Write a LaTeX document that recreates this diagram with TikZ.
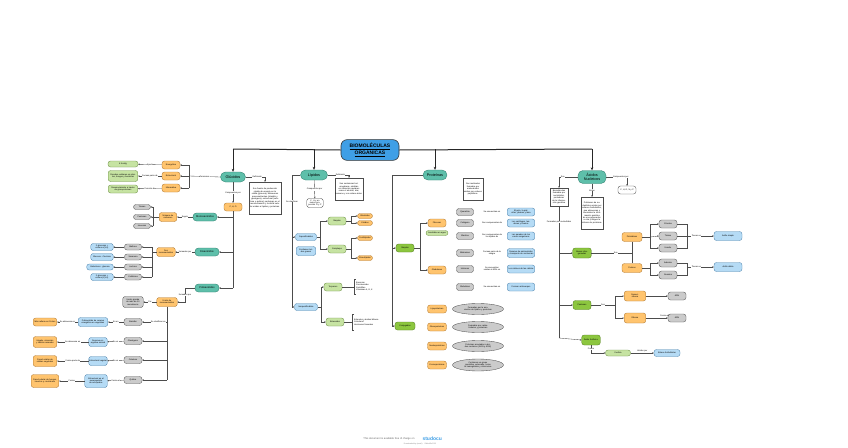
\documentclass[tikz,border=0pt]{standalone}
\usepackage{fontspec}
\setmainfont{Liberation Sans}
\usetikzlibrary{arrows.meta,shapes.geometric}
\newcommand\tfs{\fontsize{2.1}{2.45}\selectfont}
\newcommand\nfs{\fontsize{2.6}{3}\selectfont}
\newcommand\mfs{\fontsize{3.8}{4.2}\selectfont}
\definecolor{cteal}{HTML}{5EBFAA}
\definecolor{cteald}{HTML}{2F7F6E}
\definecolor{cora}{HTML}{FFC46E}
\definecolor{corad}{HTML}{B07A35}
\definecolor{cgrn}{HTML}{C6E3A2}
\definecolor{cgrnd}{HTML}{6F9147}
\definecolor{cdgrn}{HTML}{8CC63F}
\definecolor{cdgrnd}{HTML}{557F23}
\definecolor{cgry}{HTML}{CBCBCB}
\definecolor{cgryd}{HTML}{555555}
\definecolor{cblu}{HTML}{B5DBF5}
\definecolor{cblud}{HTML}{4F84AE}
\definecolor{ctit}{HTML}{3F9FE6}
\begin{document}
\begin{tikzpicture}[x=1pt,y=-1pt,
 bx/.style={draw, line width=0.35pt, rounded corners=2.5pt, align=center, inner sep=0.3pt, font=\tfs},
 nteal/.style={bx, fill=cteal, draw=cteald, font=\mfs, rounded corners=5pt},
 nsteal/.style={bx, fill=cteal, draw=cteald, font=\nfs, rounded corners=3.5pt, minimum width=24pt, minimum height=8pt},
 nora/.style={bx, fill=cora, draw=corad},
 ngrn/.style={bx, fill=cgrn, draw=cgrnd},
 ndgrn/.style={bx, fill=cdgrn, draw=cdgrnd},
 ngry/.style={bx, fill=cgry, draw=cgryd},
 nblu/.style={bx, fill=cblu, draw=cblud},
 nwht/.style={bx, fill=white, draw=black!70},
 nsq/.style={draw=black!70, line width=0.35pt, fill=white, align=center, inner sep=0.8pt, font=\tfs},
 nell/.style={ellipse, draw=cgryd, fill=cgry, line width=0.35pt, align=center, inner sep=0pt, font=\tfs},
 lbl/.style={fill=white, inner sep=0.3pt, font=\tfs, align=center},
 con/.style={draw=black!70, line width=0.35pt},
 arr/.style={con, -{Stealth[length=1.6pt,width=1.5pt]}},
 barc/.style={draw=black!85, line width=1pt},
 bara/.style={barc, -{Stealth[length=3pt,width=2.6pt]}},
]
\useasboundingbox[fill=white] (0,0) rectangle (848,447);

% ---------- title and main bar
\node[draw=black!80, line width=0.6pt, fill=ctit, rounded corners=6pt, minimum width=58pt, minimum height=20pt, align=center, font=\fontsize{5}{5.6}\selectfont\bfseries] (bio) at (370,150) {\underline{BIOMOLÉCULAS}\\\underline{ORGÁNICAS}};
\coordinate (b1) at (233,149);
\coordinate (b2) at (314,149);
\coordinate (b3) at (435,149);
\coordinate (b4) at (592,149);
\node[nteal, minimum width=25pt, minimum height=10pt] (glu) at (233,177) {Glúcidos};
\node[nteal, minimum width=27pt, minimum height=10pt] (lip) at (314,175) {Lípidos};
\node[nteal, minimum width=24pt, minimum height=10pt] (pro) at (435,175) {Proteínas};
\node[nteal, minimum width=28pt, minimum height=13pt] (an) at (592,177) {Ácidos\\Nucleicos};
\draw[barc] (bio.west) -- (b1);
\draw[barc] (bio.east) -- (b4);
\draw[bara] (b1) -- (glu.north);
\draw[bara] (b2) -- (lip.north);
\draw[bara] (b3) -- (pro.north);
\draw[bara] (b4) -- (an.north);

% ---------- GLUCIDOS
\node[nsq, text width=30pt, minimum height=32pt] (defg) at (265,198) {Son fuente de producción rápida de energía en la célula (glucosa), almacenan macronutrientes (almidón y glucógeno), estructural (celulosa y quitina), participan en el reconocimiento y la señal celular unidos a lípidos y proteínas.};
\draw[arr] (glu.east) -| node[lbl,pos=0.3]{Definición} (defg.north);
\node[nora, minimum width=18pt, minimum height=8pt] (chog) at (233,207) {C, H, O};
\draw[arr] (glu) -- node[lbl]{Compuestos por} (chog);

\coordinate (fb) at (189,176);
\coordinate (fb1) at (189,165);
\coordinate (fb3) at (189,188);
\node[nora, minimum width=18pt, minimum height=8pt] (ene) at (171,165) {Energética};
\node[nora, minimum width=18pt, minimum height=8pt] (est) at (171,176) {Estructural};
\node[nora, minimum width=18pt, minimum height=8pt] (inf) at (171,188) {Informativa};
\draw[con] (glu.west) -- node[lbl]{Funciones} (fb);
\draw[con] (fb1) -- (fb3);
\draw[arr] (fb1) -- (ene.east);
\draw[arr] (fb) -- (est.east);
\draw[arr] (fb3) -- (inf.east);
\node[ngrn, minimum width=30pt, minimum height=6pt] (g1) at (123,164) {4 Kcal/g};
\node[ngrn, text width=29pt, minimum height=11pt] (g2) at (123,176) {Paredes celulares en plantas, hongos y bacterias};
\node[ngrn, text width=29pt, minimum height=8pt] (g3) at (123,189) {Reconocimiento a través de glucoproteínas};
\draw[arr] (ene) -- node[lbl]{Aporta} (g1);
\draw[arr] (est) -- node[lbl]{Forman parte de} (g2);
\draw[arr] (inf) -- node[lbl]{Función de} (g3);

% spine of glucidos
\coordinate (gs1) at (233,217);
\coordinate (gs2) at (233,252);
\coordinate (gs3) at (233,288);
\draw[con] (chog.south) -- (gs3);
\node[nsteal] (mono) at (205,217) {Monosacáridos};
\node[nsteal] (di) at (207,252) {Disacáridos};
\node[nsteal] (poly) at (207,288) {Polisacáridos};
\draw[arr] (gs1) -- (mono.east);
\draw[arr] (gs2) -- (di.east);
\draw[arr] (gs3) -- (poly.east);

% monosacaridos
\node[nora, text width=17pt, minimum height=9pt] (nc) at (168,217) {Número de carbonos};
\draw[arr] (mono) -- node[lbl]{Según} (nc);
\coordinate (mb) at (153,217);
\coordinate (mb1) at (153,207);
\coordinate (mb3) at (153,226);
\draw[con] (nc.west) -- (mb);
\draw[con] (mb1) -- (mb3);
\node[ngry, minimum width=17pt, minimum height=5pt] (m1) at (142,207) {Triosas};
\node[ngry, minimum width=17pt, minimum height=5pt] (m2) at (142,217) {Pentosas};
\node[ngry, minimum width=17pt, minimum height=5pt] (m3) at (142,226) {Hexosas};
\draw[arr] (mb1) -- (m1.east);
\draw[arr] (mb) -- (m2.east);
\draw[arr] (mb3) -- (m3.east);

% disacaridos
\node[nora, text width=18pt, minimum height=9pt] (dm) at (166,252) {Dos monosacáridos};
\draw[arr] (di) -- node[lbl]{formados por} (dm);
\coordinate (db) at (152,252);
\coordinate (db1) at (152,247);
\coordinate (db4) at (152,277);
\coordinate (db2) at (152,257);
\coordinate (db3) at (152,267);
\draw[con] (dm.west) -- (db);
\draw[con] (db1) -- (db4);
\node[ngry, minimum width=17pt, minimum height=6pt] (d1) at (133,247) {Maltosa};
\node[ngry, minimum width=17pt, minimum height=6pt] (d2) at (133,257) {Sacarosa};
\node[ngry, minimum width=17pt, minimum height=6pt] (d3) at (133,267) {Lactosa};
\node[ngry, minimum width=17pt, minimum height=6pt] (d4) at (133,277) {Celobiosa};
\draw[arr] (db1) -- (d1.east);
\draw[arr] (db2) -- (d2.east);
\draw[arr] (db3) -- (d3.east);
\draw[arr] (db4) -- (d4.east);
\node[nblu, text width=22pt, minimum height=7pt] (e1) at (102,247) {2 glucosas + enlace α(1-4)};
\node[nblu, text width=22pt, minimum height=7pt] (e2) at (102,257) {Glucosa + fructosa};
\node[nblu, text width=26pt, minimum height=6pt] (e3) at (100,267) {Galactosa + glucosa};
\node[nblu, text width=22pt, minimum height=7pt] (e4) at (102,277) {2 glucosas + enlace β(1-4)};
\draw[arr] (d1) -- (e1);
\draw[arr] (d2) -- (e2);
\draw[arr] (d3) -- (e3);
\draw[arr] (d4) -- (e4);

% polisacaridos
\coordinate (pb) at (185,288);
\node[nora, text width=20pt, minimum height=9pt] (ep) at (167,302) {Unión de monosacáridos};
\draw[arr] (poly.west) -- (pb) |- node[lbl,pos=0.25]{formados por} (ep.east);
\node[ngry, text width=20pt, minimum height=11pt] (pg) at (133,302) {Unión grande de más de 10 monómeros};
\draw[arr] (ep) -- node[lbl]{Por} (pg);
\coordinate (ps1) at (167,322);
\coordinate (ps2) at (167,341);
\coordinate (ps3) at (167,360);
\coordinate (ps4) at (167,380);
\draw[con] (ep.south) -- (ps4);
\node[ngry, minimum width=18pt, minimum height=7pt] (p1) at (133,322) {Almidón};
\node[ngry, minimum width=18pt, minimum height=7pt] (p2) at (133,341) {Glucógeno};
\node[ngry, minimum width=18pt, minimum height=7pt] (p3) at (133,360) {Celulosa};
\node[ngry, minimum width=18pt, minimum height=7pt] (p4) at (133,380) {Quitina};
\draw[arr] (ps1) -- node[lbl,pos=0.35]{Se clasifican en} (p1.east);
\draw[arr] (ps2) -- (p2.east);
\draw[arr] (ps3) -- (p3.east);
\draw[arr] (ps4) -- (p4.east);
\node[nblu, text width=29pt, minimum height=9pt] (q1) at (93,322) {Polisacárido de reserva energética en vegetales};
\node[nblu, text width=18pt, minimum height=9pt] (q2) at (98,342) {Reserva energética animal};
\node[nblu, text width=18pt, minimum height=9pt] (q3) at (98,361) {Estructural vegetal};
\node[nblu, text width=22pt, minimum height=13pt] (q4) at (96,381) {Estructural en el exoesqueleto de artrópodos};
\draw[arr] (p1) -- node[lbl]{Es un} (q1);
\draw[arr] (p2) -- node[lbl]{Es un} (q2);
\draw[arr] (p3) -- node[lbl]{Es un} (q3);
\draw[arr] (p4) -- node[lbl]{Forma el} (q4);
\node[nora, text width=23pt, minimum height=8pt] (r1) at (45,322) {Más rellena en Frutos};
\node[nora, text width=23pt, minimum height=11pt] (r2) at (45,342) {Hígado, músculos y células animales};
\node[nora, text width=23pt, minimum height=11pt] (r3) at (45,361) {Pared celular de células vegetales};
\node[nora, text width=27pt, minimum height=13pt] (r4) at (45,381) {Pared celular de hongos, insectos y crustáceos};
\draw[arr] (q1) -- node[lbl]{Se almacena en} (r1);
\draw[arr] (q2) -- node[lbl]{Se almacena en} (r2);
\draw[arr] (q3) -- node[lbl]{Forma parte de} (r3);
\draw[arr] (q4) -- node[lbl]{Forma} (r4);

% ---------- LIPIDOS
\node[nsq, text width=27pt, minimum height=22pt] (defl) at (349,189) {Son sustancias heterogéneas, solubles en solventes apolares como el alcohol, éter, benceno y con enlace éster.};
\draw[arr] (lip.east) -| node[lbl,pos=0.3]{Definición} (defl.north);
\node[nwht, text width=16pt, minimum height=9pt] (chol) at (315,203) {C, H y en menor proporción O y P};
\draw[arr] (lip) -- node[lbl]{Compuestos por} (chol);
\coordinate (ls) at (292,307);
\coordinate (ls1) at (292,237);
\draw[con] (lip.west) -| node[lbl,pos=0.6]{Se clasifican} (ls);
\node[nblu, minimum width=21pt, minimum height=7pt] (sap) at (306,237) {Saponificables};
\node[nblu, text width=19pt, minimum height=9pt] (sap2) at (306,251) {Contienen ácidos grasos};
\node[nblu, minimum width=23pt, minimum height=7pt] (insap) at (306,307) {Insaponificables};
\draw[arr] (ls1) -- (sap.west);
\draw[arr] (ls) -- (insap.west);
\node[ngrn, minimum width=18pt, minimum height=8pt] (sim) at (337,221) {Simples};
\node[ngrn, minimum width=18pt, minimum height=8pt] (com) at (337,249) {Complejos};
\coordinate (lc) at (320,237);
\coordinate (lc1) at (320,221);
\coordinate (lc2) at (320,249);
\draw[con] (sap.east) -- (lc);
\draw[con] (lc1) -- (lc2);
\draw[arr] (lc1) -- (sim.west);
\draw[arr] (lc2) -- (com.west);
\node[nora, minimum width=15pt, minimum height=5pt] (o1) at (365,216) {Glicéridos};
\node[nora, minimum width=15pt, minimum height=5pt] (o2) at (365,223) {Céridos};
\node[nora, minimum width=15pt, minimum height=5pt] (o3) at (365,238) {Fosfolípidos};
\node[nora, minimum width=15pt, minimum height=5pt] (o4) at (365,258) {Glucolípidos};
\coordinate (sb) at (351,221);
\coordinate (sb1) at (351,216);
\coordinate (sb2) at (351,223);
\draw[con] (sim.east) -- (sb);
\draw[con] (sb1) -- (sb2);
\draw[arr] (sb1) -- (o1.west);
\draw[arr] (sb2) -- (o2.west);
\coordinate (cb) at (351,249);
\coordinate (cb1) at (351,238);
\coordinate (cb2) at (351,258);
\draw[con] (com.east) -- (cb);
\draw[con] (cb1) -- (cb2);
\draw[arr] (cb1) -- (o3.west);
\draw[arr] (cb2) -- (o4.west);
\node[ngrn, minimum width=18pt, minimum height=8pt] (ter) at (333,287) {Terpenos};
\node[ngrn, minimum width=18pt, minimum height=8pt] (ste) at (335,322) {Esteroides};
\coordinate (is) at (321,307);
\coordinate (is1) at (321,287);
\coordinate (is2) at (321,322);
\draw[con] (insap.east) -- (is);
\draw[con] (is1) -- (is2);
\draw[arr] (is1) -- (ter.west);
\draw[arr] (is2) -- (ste.west);
\coordinate (tb) at (354,287);
\draw[con] (ter.east) -- (tb);
\draw[con] (355.5,279) -- (354,279) -- (354,294) -- (355.5,294);
\node[anchor=west, font=\tfs, align=left, inner sep=0pt] (tt) at (356,286.5) {Esencias\\Carotenoides\\Xantofilas\\Vitaminas A, E, K};
\coordinate (eb) at (352,322);
\draw[con] (ste.east) -- (eb);
\draw[con] (353.5,314) -- (352,314) -- (352,330) -- (353.5,330);
\node[anchor=west, font=\tfs, align=left, inner sep=0pt] (et) at (354,322) {Esteroles y ácidos biliares\\Colesterol\\Hormonas Sexuales};

% ---------- PROTEINAS
\node[nsq, text width=18pt, minimum height=22pt] (defp) at (473,189) {Son moléculas formadas por aminoácidos unidos por enlaces peptídicos.};
\coordinate (prs) at (392,326);
\coordinate (prs1) at (392,248);
\draw[con] (pro.west) -| (prs);
\node[ndgrn, minimum width=18pt, minimum height=8pt] (psim) at (405,248) {Simples};
\node[ndgrn, minimum width=20pt, minimum height=8pt] (pcon) at (405,326) {Conjugadas};
\draw[arr] (prs1) -- (psim.west);
\draw[arr] (prs) -- (pcon.west);
\node[nora, minimum width=18pt, minimum height=8pt] (fib) at (437,223) {Fibrosas};
\node[ngrn, minimum width=22pt, minimum height=5pt] (insa) at (437,233) {Insolubles en agua};
\node[nora, minimum width=18pt, minimum height=8pt] (glob) at (437,270) {Globulares};
\coordinate (pc) at (420,248);
\coordinate (pc1) at (420,223);
\coordinate (pc2) at (420,270);
\draw[con] (psim.east) -- (pc);
\draw[con] (pc1) -- (pc2);
\draw[arr] (pc1) -- (fib.west);
\draw[arr] (pc2) -- (glob.west);

\node[ngry, minimum width=17pt, minimum height=7pt] (k1g) at (465,212) {Queratina};
\node[ngry, minimum width=17pt, minimum height=7pt] (k2g) at (465,223) {Colágeno};
\node[ngry, minimum width=17pt, minimum height=7pt] (k3g) at (465,236) {Elastina};
\node[ngry, minimum width=17pt, minimum height=7pt] (k4g) at (465,253) {Albúminas};
\node[ngry, minimum width=17pt, minimum height=7pt] (k5g) at (465,269) {Histonas};
\node[ngry, minimum width=17pt, minimum height=7pt] (k6g) at (465,287) {Globulinas};
\node[lbl] (k1l) at (492,212) {Se encuentran en};
\node[lbl] (k2l) at (492,223) {Son componentes de};
\node[lbl] (k3l) at (492,236) {Son componentes de\\los tejidos de};
\node[lbl] (k4l) at (492,253) {Forman parte de la\\sangre};
\node[lbl] (k5l) at (492,269) {Se encuentran\\unidas al ADN en};
\node[lbl] (k6l) at (492,287) {Se encuentran en};
\node[nblu, text width=27pt, minimum height=8pt] (k1b) at (521,212) {El pelo, la piel, uñas, plumas y lana};
\node[nblu, text width=27pt, minimum height=8pt] (k2b) at (521,223) {Los cartílagos, tendones y huesos};
\node[nblu, text width=27pt, minimum height=8pt] (k3b) at (521,236) {Las paredes de los vasos sanguíneos};
\node[nblu, text width=27pt, minimum height=9pt] (k4b) at (521,253) {Reserva de aminoácidos y transporte de sustancias};
\node[nblu, text width=27pt, minimum height=8pt] (k5b) at (521,269) {Los núcleos de las células};
\node[nblu, text width=27pt, minimum height=8pt] (k6b) at (521,287) {Forman anticuerpos};

\node[nora, minimum width=19pt, minimum height=8pt] (c1o) at (437,309) {Lipoproteínas};
\node[nora, minimum width=19pt, minimum height=8pt] (c2o) at (437,327) {Glucoproteínas};
\node[nora, minimum width=19pt, minimum height=8pt] (c3o) at (437,346) {Nucleoproteínas};
\node[nora, minimum width=19pt, minimum height=8pt] (c4o) at (437,365) {Cromoproteínas};
\node[nell, minimum width=46pt, minimum height=11pt, text width=36pt] (c1e) at (478,309) {Formadas por la asociación de lípidos y proteínas};
\node[nell, minimum width=46pt, minimum height=11pt, text width=36pt] (c2e) at (478,327) {Formadas por carbohidratos y proteínas};
\node[nell, minimum width=46pt, minimum height=11pt, text width=36pt] (c3e) at (478,346) {Proteínas asociadas a ácidos nucleicos (ADN y ARN)};
\node[nell, minimum width=46pt, minimum height=12pt, text width=36pt] (c4e) at (478,365) {Contienen un grupo prostético coloreado, como la hemoglobina y citocromos};

% ---------- ACIDOS NUCLEICOS
\node[nsq, text width=17pt, minimum height=18pt] (defa1) at (559,197) {Biomoléculas formadas por nucleótidos, portadoras de la información genética};
\draw[arr] (an.west) -| node[lbl,pos=0.4]{Son} (defa1.north);
\node[nsq, text width=21pt, minimum height=32pt] (defa2) at (592,213) {Polímeros de nucleótidos unidos por enlaces fosfodiéster, que almacenan y transmiten la información genética de una generación a otra y dirigen la síntesis de proteínas.};
\draw[arr] (an) -- node[lbl]{Están} (defa2);
\node[nwht, minimum width=18pt, minimum height=8pt] (cano) at (627,190) {C, H, O, N y P};
\draw[arr] (an.east) -| node[lbl,pos=0.35]{Compuestos por} (cano.north);
\coordinate (as) at (559,338);
\coordinate (as1) at (559,253);
\coordinate (as2) at (559,305);
\draw[con] (defa1.south) -- node[lbl,pos=0.12]{Formados por nucleótidos} (as);
\node[ndgrn, text width=18pt, minimum height=10pt] (bnit) at (582,253) {Bases nitrogenadas};
\node[ndgrn, minimum width=18pt, minimum height=9pt] (pent) at (582,305) {Pentosas};
\node[ndgrn, text width=18pt, minimum height=10pt] (afos) at (591,340) {Ácido fosfórico};
\draw[arr] (as1) -- (bnit.west);
\draw[arr] (as2) -- (pent.west);
\draw[arr] (as) -- (afos.west);

\coordinate (ab) at (632,253);
\node[nora, minimum width=20pt, minimum height=9pt] (pir) at (632,237) {Pirimidinas};
\node[nora, minimum width=20pt, minimum height=9pt] (pur) at (632,268) {Purinas};
\draw[con] (bnit.east) -- node[lbl,pos=0.6]{Son} (ab);
\draw[con] (pir.south) -- (pur.north);
\node[ngry, minimum width=18pt, minimum height=8pt] (a1) at (668,224) {Citosina};
\node[ngry, minimum width=18pt, minimum height=8pt] (a2) at (668,236) {Timina};
\node[ngry, minimum width=18pt, minimum height=8pt] (a3) at (668,248) {Uracilo};
\node[ngry, minimum width=18pt, minimum height=8pt] (a4) at (668,263) {Adenina};
\node[ngry, minimum width=18pt, minimum height=8pt] (a5) at (668,275) {Guanina};
\coordinate (pb0) at (650,237);
\coordinate (pb1) at (650,224);
\coordinate (pb3) at (650,248);
\draw[con] (pir.east) -- (pb0);
\draw[con] (pb1) -- (pb3);
\draw[arr] (pb1) -- (a1.west);
\draw[arr] (pb0) -- (a2.west);
\draw[arr] (pb3) -- (a3.west);
\coordinate (qb0) at (650,268);
\coordinate (qb1) at (650,263);
\coordinate (qb2) at (650,275);
\draw[con] (pur.east) -- (qb0);
\draw[con] (qb1) -- (qb2);
\draw[arr] (qb1) -- (a4.west);
\draw[arr] (qb2) -- (a5.west);
\node[nblu, minimum width=28pt, minimum height=9pt] (u1) at (728,236) {Anillo simple};
\node[nblu, minimum width=28pt, minimum height=9pt] (u2) at (728,267) {Anillo doble};
\coordinate (rb0) at (687,236);
\coordinate (rb1) at (687,224);
\coordinate (rb3) at (687,248);
\draw[con] (a1.east) -- (rb1) -- (rb3) -- (a3.east);
\draw[con] (a2.east) -- (rb0);
\draw[arr] (rb0) -- node[lbl,pos=0.35]{Tienen un} (u1);
\coordinate (rc0) at (687,267);
\coordinate (rc1) at (687,263);
\coordinate (rc2) at (687,275);
\draw[con] (a4.east) -- (rc1) -- (rc2) -- (a5.east);
\draw[arr] (rc0) -- node[lbl,pos=0.35]{Tienen un} (u2);

\coordinate (sb0) at (615,305);
\coordinate (sb5) at (615,296);
\coordinate (sb6) at (615,318);
\draw[con] (pent.east) -- node[lbl]{Son} (sb0);
\draw[con] (sb5) -- (sb6);
\node[nora, text width=21pt, minimum height=10pt] (dxr) at (635,296) {Desoxi-\\rribosa};
\node[nora, text width=21pt, minimum height=10pt] (rib) at (635,318) {Ribosa};
\draw[arr] (sb5) -- (dxr.west);
\draw[arr] (sb6) -- (rib.west);
\node[ngry, minimum width=18pt, minimum height=8pt] (x1) at (677,296) {ADN};
\node[ngry, minimum width=18pt, minimum height=8pt] (x2) at (677,318) {ARN};
\draw[arr] (dxr) -- (x1);
\draw[arr] (rib) -- node[lbl,pos=0.85,above=1.5pt,fill=none]{Forma el} (x2);

\node[ngrn, minimum width=25pt, minimum height=6pt] (fos) at (618,353) {Fosfato};
\node[nblu, minimum width=26pt, minimum height=7pt] (enl) at (667,353) {Enlace fosfodiéster};
\draw[arr] (afos.south) |- node[lbl,pos=0.25]{Forma} (fos.west);
\draw[arr] (fos) -- node[lbl,above=0.5pt, fill=none]{Unidos por} (enl);

% ---------- footer
\node[font=\fontsize{2.6}{3}\selectfont, text=black!60, anchor=east] (ft1) at (418,439) {This document is available free of charge on};
\node[font=\fontsize{5}{5}\selectfont\bfseries, text=ctit, anchor=west] (ft2) at (419,439) {studocu};
\node[font=\fontsize{1.8}{2}\selectfont, text=black!50] (ft3) at (420,444) {Downloaded by (email) \quad lOMoARcPSD};
\end{tikzpicture}
\end{document}
